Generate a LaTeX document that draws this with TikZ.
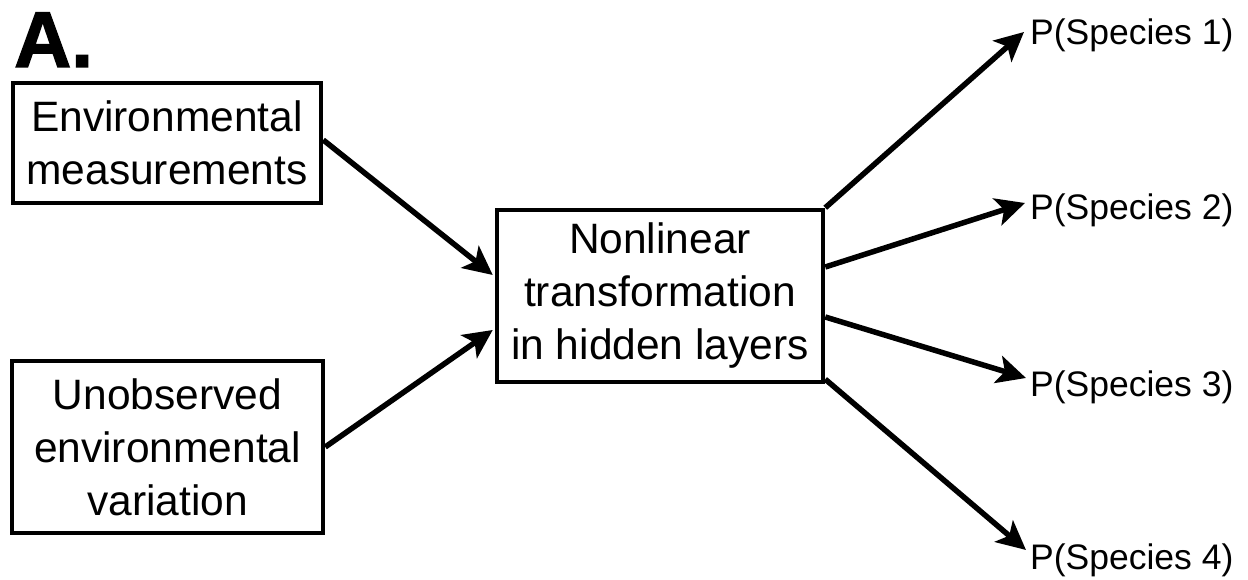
\documentclass[tikz,border=0pt]{standalone}
\usepackage{fontspec}
\setmainfont{Liberation Sans}
\newfontfamily\heavyfont[FakeBold=1.8]{Liberation Sans Bold}
\usetikzlibrary{arrows.meta,calc}
\begin{document}
\begin{tikzpicture}[x=1pt,y=1pt,
  box/.style={draw, line width=4.5pt, inner sep=0pt, align=center,
    font=\fontsize{42.5}{53}\selectfont},
  lbl/.style={inner sep=0pt, anchor=base west, font=\fontsize{35.5}{40}\selectfont},
  arr/.style={line width=5.5pt, -{Stealth[length=29pt,width=28pt,inset=7pt]}}]
\useasboundingbox (0,0) rectangle (1248,580);
\node[inner sep=0pt, anchor=base west, font=\heavyfont\fontsize{79}{80}\selectfont] (title) at (14,513) {A.};
\node[box, minimum width=308pt, minimum height=120pt] (env) at (167,437) {Environmental\\measurements};
\node[box, minimum width=311pt, minimum height=172pt] (unobs) at (167.5,133) {Unobserved\\environmental\\variation};
\node[box, minimum width=326pt, minimum height=172pt] (hid) at (660,284) {Nonlinear\\transformation\\in hidden layers};
\node[lbl] (s1) at (1030,535) {P(Species 1)};
\node[lbl] (s2) at (1030,360) {P(Species 2)};
\node[lbl] (s3) at (1030,183) {P(Species 3)};
\node[lbl] (s4) at (1030,10) {P(Species 4)};
\draw[arr] ([yshift=3pt]env.east) -- ([shift={(-2pt,21pt)}]hid.west);
\draw[arr] (unobs.east) -- ([shift={(-2pt,-34pt)}]hid.west);
\draw[arr] (hid.north east) -- ([shift={(-6pt,13pt)}]s1.base west);
\draw[arr] ([yshift=29pt]hid.east) -- ([shift={(-5pt,17pt)}]s2.base west);
\draw[arr] ([yshift=-21pt]hid.east) -- ([shift={(-4pt,19pt)}]s3.base west);
\draw[arr] ([yshift=5pt]hid.south east) -- ([shift={(-4pt,20pt)}]s4.base west);
\end{tikzpicture}
\end{document}
